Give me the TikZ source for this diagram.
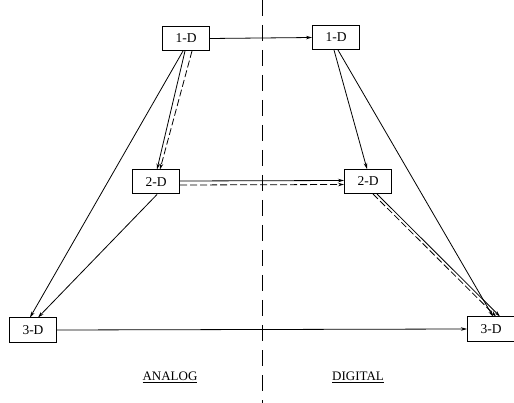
\documentclass[tikz,border=0pt]{standalone}
\usepackage{fontspec}
\setmainfont{Liberation Serif}
\usetikzlibrary{arrows.meta}
\begin{document}
\begin{tikzpicture}[x=1pt,y=-1pt,
  dimbox/.style={draw,line width=1pt,minimum width=47pt,minimum height=24pt,inner sep=0pt,font=\fontsize{13.5}{13.5}\selectfont},
  link/.style={line width=0.8pt,-{Stealth[length=6pt,width=3.5pt]}},
  dlink/.style={link,dash pattern=on 7pt off 3pt},
  caption/.style={font=\fontsize{13}{13}\selectfont,inner sep=1pt}]
\useasboundingbox (0,0) rectangle (514,403);
% divider between the two domains
\draw[line width=0.8pt,dash pattern=on 16pt off 9pt] (262,0) -- (262,403);
% analog side
\node[dimbox] (a1) at (186,38.5) {1-D};
\node[dimbox] (a2) at (156,182) {2-D};
\node[dimbox] (a3) at (33,330) {3-D};
% digital side
\node[dimbox] (d1) at (336,37.5) {1-D};
\node[dimbox] (d2) at (368,181.5) {2-D};
\node[dimbox] (d3) at (491,329) {3-D};
% connectors
\draw[link] (a1.east) -- (d1.west);
\draw[link] ([xshift=-1pt]a1.south) -- ([xshift=1pt]a2.north);
\draw[dlink] ([xshift=6pt]a1.south) -- ([xshift=4pt]a2.north);
\draw[link] ([xshift=-3pt]a1.south) -- ([xshift=-3pt]a3.north);
\draw[link] ([xshift=1pt]a2.south) -- ([xshift=5pt]a3.north);
\draw[link] ([yshift=1pt]a2.east) -- ([yshift=1pt]d2.west);
\draw[dlink] ([yshift=-3pt]a2.east) -- ([yshift=-3pt]d2.west);
\draw[link] (a3.east) -- (d3.west);
\draw[link] ([xshift=-2pt]d1.south) -- ([xshift=-1pt]d2.north);
\draw[link] ([xshift=2pt]d1.south) -- ([xshift=2pt]d3.north);
\draw[link] ([xshift=9pt]d2.south) -- ([xshift=9pt]d3.north);
\draw[dlink] ([xshift=5pt]d2.south) -- ([xshift=5pt]d3.north);
% domain captions
\node[caption] (an) at (170,377) {\underline{ANALOG}};
\node[caption] (dg) at (358,377) {\underline{DIGITAL}};
\end{tikzpicture}
\end{document}
